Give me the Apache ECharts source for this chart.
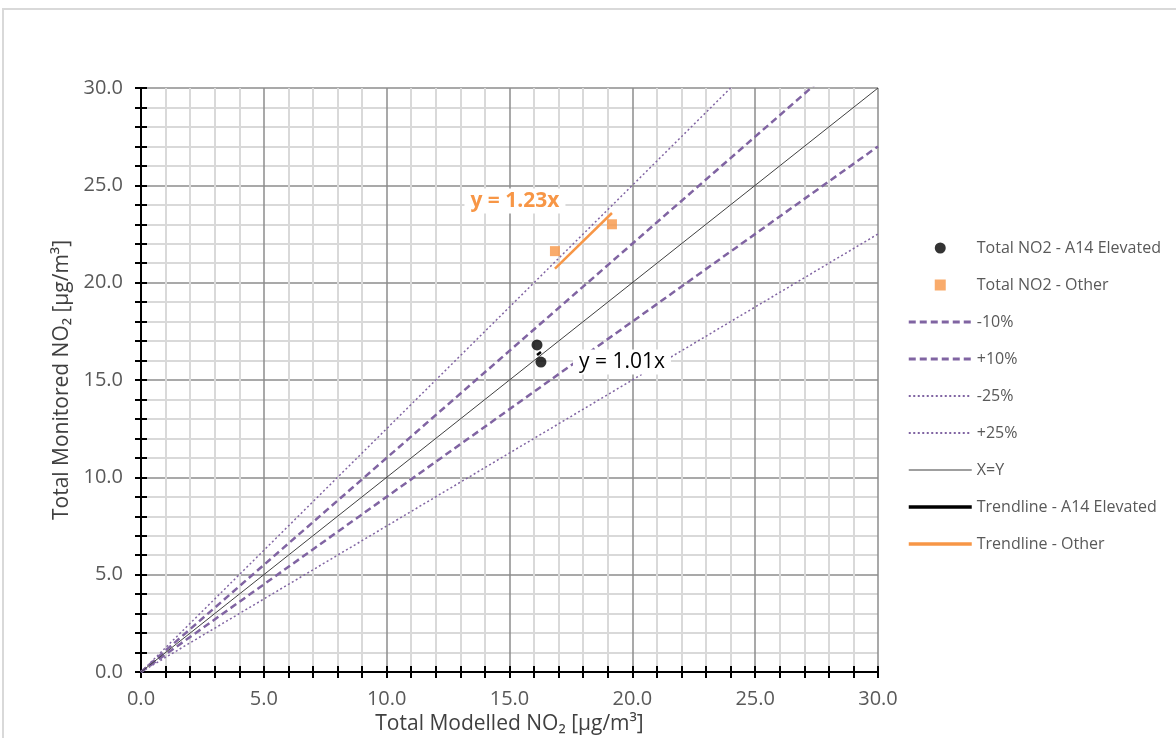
<!DOCTYPE html>
<html><head><meta charset="utf-8">
<script src="https://cdn.jsdelivr.net/npm/echarts@6/dist/echarts.min.js"></script>
<style>html,body{margin:0;padding:0;background:#fff}#c{width:1176px;height:738px}</style>
</head><body><div id="c"></div>
<script>
// ---- data ----
const a14X = [16.12, 16.28];
const a14Y = [16.80, 15.92];
const otherX = [16.85, 19.17];
const otherY = [21.62, 23.00];
const slopeA14 = 1.01;
const slopeOther = 1.23;
const refNames = ['-10%', '+10%', '-25%', '+25%', 'X=Y'];
const refSlopes = [0.9, 1.1, 0.75, 1.25, 1.0];
const axisMin = 0, axisMax = 30, axisStep = 5;

const FONT = 'Open Sans';
const purple = '#8064a2';
const orange = '#f79646';

const pairs = (xs, ys) => xs.map((x, i) => [x, ys[i]]);
const trend = (xs, k) => { const lo = Math.min(...xs), hi = Math.max(...xs); return [[lo, lo * k], [hi, hi * k]]; };
const refData = k => [[axisMin, axisMin * k], [axisMax, axisMax * k]];

const dashStyle = {color: purple, width: 2.5, type: [7, 4]};
const dotStyle = {color: purple, width: 1.5, type: [2, 2.5]};
const xyStyle = {color: '#404040', width: 1};

function axisBase(isX, inside) {
  return {
    type: 'value', min: axisMin, max: axisMax, interval: axisStep,
    gridIndex: inside ? 1 : 0,
    position: isX ? 'bottom' : 'left',
    axisLine: {show: true, onZero: false, lineStyle: {color: '#000', width: 2}},
    axisTick: {show: true, inside: inside, length: 6, lineStyle: {color: '#000', width: 2}},
    minorTick: {show: true, splitNumber: 5, length: 6, lineStyle: {color: '#000', width: 2}},
    axisLabel: {show: !inside, formatter: v => v.toFixed(1), color: '#595959', fontFamily: FONT, fontSize: 20, margin: isX ? 17 : 18},
    splitLine: {show: !inside, lineStyle: {color: '#8c8c8c', width: 1.5}},
    minorSplitLine: {show: !inside, lineStyle: {color: '#d9d9d9', width: 2}}
  };
}

const xMain = Object.assign(axisBase(true, false), {
  name: 'Total Modelled NO₂ [µg/m³]', nameLocation: 'middle', nameGap: 42,
  nameTextStyle: {color: '#404040', fontFamily: FONT, fontSize: 21}
});
const yMain = Object.assign(axisBase(false, false), {
  name: 'Total Monitored NO₂ [µg/m³]', nameLocation: 'middle', nameGap: 67,
  nameTextStyle: {color: '#404040', fontFamily: FONT, fontSize: 21}
});

const series = [];
refNames.forEach((nm, i) => {
  const k = refSlopes[i];
  const d = Math.abs(k - 1);
  const ls = d > 0.2 ? dotStyle : d > 0.05 ? dashStyle : xyStyle;
  series.push({
    name: nm, type: 'line', data: refData(k), symbol: 'none', clip: true, z: 3,
    lineStyle: ls, itemStyle: {color: ls.color}
  });
});
series.push({
  name: 'Trendline - A14 Elevated', type: 'line', data: trend(a14X, slopeA14), symbol: 'none', z: 4,
  lineStyle: {color: '#000', width: 2.5}, itemStyle: {color: '#000'},
  markPoint: {symbol: 'rect', symbolSize: 0, data: [{coord: trend(a14X, slopeA14)[1],
    label: {show: true, formatter: 'y = ' + slopeA14.toFixed(2) + 'x', offset: [81, 10], color: '#000',
      fontFamily: FONT, fontSize: 21, backgroundColor: '#fff', padding: [2, 6, 2, 6]}}]}
});
series.push({
  name: 'Trendline - Other', type: 'line', data: trend(otherX, slopeOther), symbol: 'none', z: 4,
  lineStyle: {color: orange, width: 2.5}, itemStyle: {color: orange},
  markPoint: {symbol: 'rect', symbolSize: 0, data: [{coord: trend(otherX, slopeOther)[1],
    label: {show: true, formatter: 'y = ' + slopeOther.toFixed(2) + 'x', offset: [-97, -12], color: orange,
      fontWeight: 'bold', fontFamily: FONT, fontSize: 21, backgroundColor: '#fff', padding: [2, 6, 2, 6]}}]}
});
series.push({
  name: 'Total NO2 - A14 Elevated', type: 'scatter', data: pairs(a14X, a14Y), symbol: 'circle', symbolSize: 11, z: 6,
  itemStyle: {color: '#000'}
});
series.push({
  name: 'Total NO2 - Other', type: 'scatter', data: pairs(otherX, otherY), symbol: 'rect', symbolSize: 10, z: 6,
  itemStyle: {color: orange}
});

const hideSym = {opacity: 0, borderWidth: 0};
const legendData = [
  {name: 'Total NO2 - A14 Elevated', icon: 'circle'},
  {name: 'Total NO2 - Other', icon: 'path://M0 0H1V1H0Z'},
  {name: '-10%', itemStyle: hideSym, lineStyle: {width: 3}},
  {name: '+10%', itemStyle: hideSym, lineStyle: {width: 3}},
  {name: '-25%', itemStyle: hideSym, lineStyle: {width: 2}},
  {name: '+25%', itemStyle: hideSym, lineStyle: {width: 2}},
  {name: 'X=Y', itemStyle: hideSym, lineStyle: {width: 1.2}},
  {name: 'Trendline - A14 Elevated', itemStyle: hideSym, lineStyle: {width: 3.5}},
  {name: 'Trendline - Other', itemStyle: hideSym, lineStyle: {width: 3.5}}
];

const gridBox = {left: 141, top: 88, right: 298, bottom: 66, containLabel: false, outerBoundsMode: 'none'};

const option = {
  backgroundColor: '#fff',
  animation: false,
  graphic: [
    {type: 'rect', shape: {x: 3, y: 9, width: 1300, height: 800}, style: {fill: 'none', stroke: '#d9d9d9', lineWidth: 2}, z: -10}
  ],
  grid: [Object.assign({}, gridBox), Object.assign({}, gridBox)],
  legend: {
    orient: 'vertical', left: 907, top: 239, padding: 0, itemWidth: 63, itemHeight: 11, itemGap: 19, symbolKeepAspect: true,
    textStyle: {color: '#595959', fontFamily: FONT, fontSize: 16, lineHeight: 18},
    data: legendData
  },
  xAxis: [xMain, axisBase(true, true)],
  yAxis: [yMain, axisBase(false, true)],
  series: series
};
echarts.init(document.getElementById('c')).setOption(option);
</script></body></html>
